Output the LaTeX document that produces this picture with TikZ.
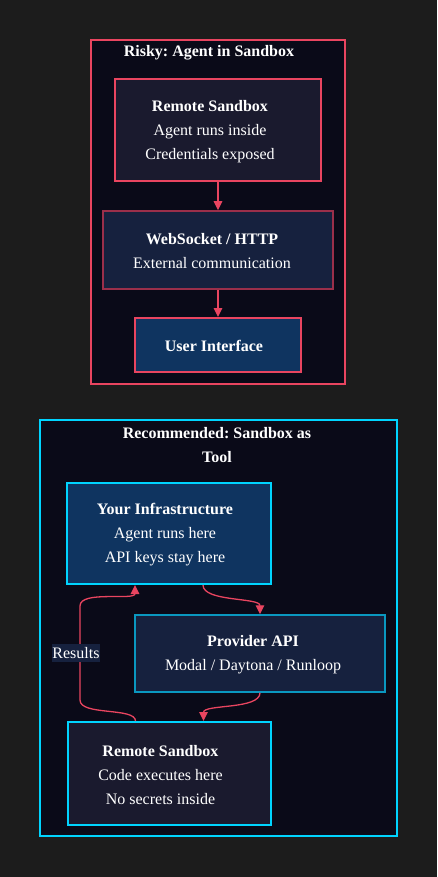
\documentclass[tikz,border=0pt]{standalone}
\usepackage{fontspec}
\setmainfont{Liberation Serif}
\frenchspacing
\usetikzlibrary{arrows.meta}
\definecolor{bgc}{HTML}{1C1C1C}
\definecolor{clfill}{HTML}{0A0A18}
\definecolor{redc}{HTML}{E94560}
\definecolor{redd}{HTML}{9B2F4A}
\definecolor{cyanc}{HTML}{00D4FF}
\definecolor{cyand}{HTML}{0A98C0}
\definecolor{fa}{HTML}{1A1A2E}
\definecolor{fb}{HTML}{16213E}
\definecolor{fc}{HTML}{0F3460}
\definecolor{txt}{HTML}{FFFFFF}
\tikzset{
  x=1pt, y=1pt,
  base/.style={inner sep=0pt, align=center, text=txt, font=\fontsize{16}{24}\selectfont},
  cluster/.style={base, draw, line width=2pt, fill=clfill},
  box/.style={base, draw, line width=2pt},
  ttl/.style={base, font=\fontsize{16}{24}\selectfont\bfseries},
  edge/.style={draw=redc, line width=1.3pt, -{Triangle[length=9pt,width=8.5pt]}},
  elabel/.style={base, fill=fb, inner xsep=0.5pt, inner ysep=3pt}
}
\begin{document}
\begin{tikzpicture}
\fill[bgc] (0,0) rectangle (437,-877);
\useasboundingbox (0,0) rectangle (437,-877);
% clusters
\node[cluster, draw=redc, minimum width=254pt, minimum height=344pt] (c1) at (218,-212) {};
\node[ttl] (t1) at (209,-52.5) {Risky: Agent in Sandbox};
\node[cluster, draw=cyanc, minimum width=357pt, minimum height=416pt] (c2) at (218.5,-628) {};
\node[ttl] (t2) at (217,-445) {Recommended: Sandbox as\\Tool};
% risky nodes
\node[box, draw=redc, fill=fa, minimum width=206pt, minimum height=102pt] (r1) at (218,-130) {};
\node[base] (r1t) at ([xshift=-8pt,yshift=-1.5pt]r1.center)
  {\textbf{Remote Sandbox}\\Agent runs inside\\Credentials exposed};
\node[box, draw=redd, line width=1.5pt, fill=fb, minimum width=230pt, minimum height=78pt] (ws) at (218,-250) {};
\node[base] (wst) at ([xshift=-6pt,yshift=-1.5pt]ws.center)
  {\textbf{WebSocket / HTTP}\\External communication};
\node[box, draw=redc, fill=fc, minimum width=166pt, minimum height=54pt] (ui) at (218,-345) {};
\node[base] (uit) at ([xshift=-4pt,yshift=-1pt]ui.center) {\textbf{User Interface}};
\draw[edge] (r1.south) -- (ws.north);
\draw[edge] (ws.south) -- (ui.north);
% recommended nodes
\node[box, draw=cyanc, fill=fc, minimum width=204pt, minimum height=101pt] (inf) at (169,-533.5) {};
\node[base] (inft) at ([xshift=-4pt,yshift=-1.5pt]inf.center)
  {\textbf{Your Infrastructure}\\Agent runs here\\API keys stay here};
\node[box, draw=cyand, line width=1.5pt, fill=fb, minimum width=250pt, minimum height=77pt] (api) at (260,-653.5) {};
\node[base] (apit) at ([xshift=-7pt,yshift=-1.5pt]api.center)
  {\textbf{Provider API}\\Modal / Daytona / Runloop};
\node[box, draw=cyanc, fill=fa, minimum width=203pt, minimum height=103pt] (rs) at (169.5,-773.5) {};
\node[base] (rst) at ([xshift=-9pt,yshift=-1.5pt]rs.center)
  {\textbf{Remote Sandbox}\\Code executes here\\No secrets inside};
\draw[edge] ([xshift=34pt]inf.south) .. controls ++(0,-17) and ++(0,17) .. (api.north);
\draw[edge] (api.south) .. controls ++(0,-17) and ++(0,17) .. ([xshift=34pt]rs.north);
\draw[edge] ([xshift=-34pt]rs.north) .. controls ++(0,14) and ++(0,-16) .. (80,-700)
  -- node[elabel, xshift=-4pt] (lab) {Results} (80,-606)
  .. controls ++(0,16) and ++(0,-16) .. ([xshift=-34pt]inf.south);
\end{tikzpicture}
\end{document}
